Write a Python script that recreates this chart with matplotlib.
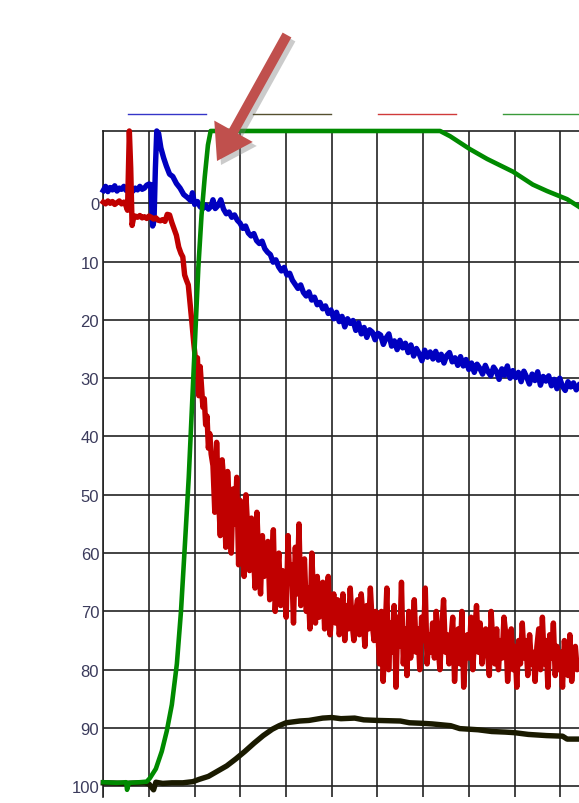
import numpy as np
import matplotlib
matplotlib.use("Agg")
import matplotlib.pyplot as plt
from matplotlib.lines import Line2D
from matplotlib.patches import FancyArrow
from matplotlib.transforms import IdentityTransform

plt.rcParams['font.family'] = ['Liberation Sans', 'DejaVu Sans']

# x is in grid units (one vertical gridline per unit), y is inverted 0..100
y_ticks = [0, 10, 20, 30, 40, 50, 60, 70, 80, 90, 100]

# blue
blue_start = [-2.2, -2.9, -2.0, -2.7, -2.3, -3.0, -2.1, -2.6, -2.4, -2.9, -2.2,
              -2.5, -2.8, -2.1, -2.6, -2.3, -2.9, -2.4, -2.6, -3.1, -3.3]
blue_mid_t = [1.04, 1.08, 1.11, 1.14, 1.17, 1.21, 1.26, 1.32, 1.38, 1.45, 1.52, 1.60,
              1.68, 1.76, 1.84, 1.92, 1.95, 2.00, 2.06, 2.12, 2.18, 2.24, 2.30, 2.36, 2.40]
blue_mid = [-3.2, 3.9, 3.0, -6.0, -12.4, -12.0, -9.5, -7.8, -6.4, -5.0, -4.6, -3.4,
            -2.6, -1.5, -1.0, -0.4, -1.8, 0.2, -0.3, 0.6, 0.9, 0.3, 1.0, 0.5, -0.6]
blue_tail = [0.9, 0.4, -0.6, 1.0, 1.8, 1.5, 2.4, 2.0, 2.9, 3.4,
             4.3, 3.9, 5.1, 5.6, 5.2, 6.4, 6.9, 6.5, 7.8, 8.4,
             8.8, 10.1, 9.7, 10.9, 11.6, 11.0, 12.3, 12.0, 13.2, 13.9,
             14.6, 14.0, 15.3, 15.9, 15.2, 16.6, 16.1, 17.4, 17.0, 18.1,
             17.6, 18.9, 18.3, 19.8, 18.7, 20.3, 19.4, 21.2, 19.8, 20.6,
             20.1, 21.8, 20.5, 22.4, 21.3, 23.0, 21.7, 22.1, 23.4, 22.3,
             22.6, 24.2, 23.1, 22.4, 24.5, 23.6, 25.1, 23.5, 24.8, 24.0,
             25.6, 24.3, 26.2, 24.9, 25.8, 27.0, 25.2, 26.4, 25.5, 26.7,
             25.4, 26.9, 25.9, 27.4, 26.1, 25.6, 27.2, 26.5, 27.8, 26.3,
             27.9, 26.8, 28.5, 27.4, 29.0, 27.6, 28.3, 29.3, 27.8, 28.9,
             29.6, 28.1, 28.8, 30.2, 28.4, 29.5, 27.9, 30.0, 28.7, 29.9,
             29.0, 30.6, 28.8, 29.8, 31.0, 29.3, 30.4, 28.9, 31.2, 29.7,
             30.5, 29.6, 31.3, 30.2, 31.8, 30.0, 31.4, 32.1, 30.6, 31.5,
             30.8, 32.0, 31.2]

# red
red_start = [-0.2, 0.1, -0.4, 0.0, -0.3, 0.2, -0.1, -0.4, 0.1, -0.2]
red_spike_t = [0.49, 0.53, 0.57, 0.60, 0.63, 0.66, 0.70]
red_spike = [0.3, 1.2, -12.4, -6.0, 3.8, 2.6, 2.2]
red_flat = [2.4, 2.1, 2.5, 2.3, 2.6, 2.2, 2.4, 2.7, 2.5, 2.9, 3.0, 2.8, 3.1]
red_drop_t = [1.40, 1.45, 1.50, 1.55, 1.60, 1.65, 1.70, 1.74, 1.78, 1.82, 1.86, 1.90, 1.94,
              1.98, 2.02, 2.06, 2.09, 2.12, 2.15, 2.18, 2.21, 2.24, 2.27, 2.30, 2.33, 2.36]
red_drop = [1.9, 2.0, 3.3, 4.4, 5.5, 7.5, 8.6, 9.2, 12.3, 13.2, 14.0, 17.2, 20.5,
            24.0, 27.0, 26.5, 33.0, 28.0, 31.5, 35.0, 33.5, 38.0, 36.5, 42.0, 39.5, 43.0]
red_tail = [45, 53, 41, 50, 57, 44, 48, 59, 46, 52,
            60, 49, 55, 47, 62, 51, 58, 64, 50, 56,
            63, 54, 59, 66, 53, 61, 67, 57, 64, 60,
            58, 68, 62, 56, 70, 64, 60, 69, 63, 66,
            71, 57, 65, 62, 72, 59, 67, 55, 69, 64,
            61, 70, 66, 73, 60, 68, 72, 64, 71, 67,
            65, 73, 69, 64, 74, 70, 67, 72, 68, 74,
            71, 67, 75, 69, 73, 66, 72, 75, 70, 68,
            74, 67, 71, 76, 69, 73, 66, 72, 75, 70,
            73, 79, 70, 82, 74, 66, 80, 72, 77, 69,
            83, 71, 76, 65, 79, 73, 81, 70, 78, 74,
            68, 77, 73, 80, 71, 75, 66, 79, 74, 77,
            72, 78, 70, 76, 80, 73, 68, 77, 74, 79,
            75, 71, 82, 76, 73, 79, 70, 83, 77, 74,
            78, 71, 80, 74, 69, 77, 72, 79, 75, 73,
            77, 81, 70, 76, 79, 73, 80, 75, 78, 71,
            74, 82, 77, 73, 80, 76, 83, 75, 79, 72,
            78, 75, 81, 74, 79, 77, 82, 76, 73, 80,
            71, 79, 75, 83, 74, 78, 72, 81, 76, 80,
            77, 83, 75, 79, 81, 74, 82, 78, 76, 80,
            79]

# green
green_t = [0, 0.3, 0.5, 0.52, 0.56, 0.8, 0.95, 1.02, 1.15, 1.28, 1.39, 1.50, 1.61, 1.70,
           1.79, 1.87, 1.94, 2.01, 2.08, 2.15, 2.22, 2.29, 2.35, 7.37, 7.59, 8.02, 8.40,
           8.97, 9.40, 9.71, 10.15, 10.41]
green_y = [99.3, 99.4, 99.3, 100.6, 99.4, 99.3, 99.2, 98.6, 97.0, 94.0, 90.5, 86.0, 79.0, 70.0,
           58.0, 47.0, 35.0, 23.0, 11.0, 2.0, -4.5, -10.0, -12.4, -12.4, -11.5, -9.3, -7.6,
           -5.4, -3.2, -2.1, -0.7, 0.6]

# black
black_t = [0, 0.5, 0.9, 1.0, 1.1, 1.15, 1.3, 1.5, 1.74, 1.96, 2.1, 2.3, 2.5, 2.7, 2.9, 3.1,
           3.3, 3.5, 3.7, 3.85, 4.0, 4.3, 4.5, 4.8, 5.0, 5.2, 5.5, 5.7, 6.0, 6.5, 6.7, 7.0,
           7.2, 7.6, 7.8, 8.2, 8.5, 8.8, 9.0, 9.3, 9.7, 10.05, 10.15, 10.41]
black_y = [99.4, 99.5, 99.4, 99.6, 100.6, 99.3, 99.5, 99.4, 99.4, 99.2, 98.8, 98.3, 97.4,
           96.5, 95.3, 94.0, 92.6, 91.3, 90.2, 89.6, 89.1, 88.8, 88.7, 88.3, 88.2, 88.4,
           88.3, 88.6, 88.7, 88.8, 89.1, 89.2, 89.3, 89.6, 90.1, 90.3, 90.6, 90.7, 90.8,
           91.1, 91.3, 91.4, 91.9, 91.9]

key_colors = ['#3535c8', '#55502f', '#d03a3a', '#3a9a3a']

blue_t = np.concatenate([np.linspace(0, 1.0, len(blue_start)), blue_mid_t,
                         np.linspace(2.45, 10.41, len(blue_tail))])
blue_y = np.concatenate([blue_start, blue_mid, blue_tail])
red_t = np.concatenate([np.linspace(0, 0.45, len(red_start)), red_spike_t,
                        np.linspace(0.75, 1.35, len(red_flat)), red_drop_t,
                        np.linspace(2.40, 10.41, len(red_tail))])
red_y = np.concatenate([red_start, red_spike, red_flat, red_drop, red_tail])

fig = plt.figure(figsize=(5.79, 8.04), dpi=100)
ax = fig.add_axes([0.1784, 0.0077, 0.8216, 0.8285])

lw = 3.9
ax.plot(black_t, black_y, color='#1a1a00', lw=lw, clip_on=False, zorder=3)
ax.plot(blue_t, blue_y, color='#0000c0', lw=lw, clip_on=False, zorder=4)
ax.plot(red_t, red_y, color='#c00000', lw=lw, clip_on=False, zorder=5)
ax.plot(green_t, green_y, color='#008a00', lw=3.3, clip_on=False, zorder=6)

ax.set_xlim(0, 10.41)
ax.set_ylim(101.8, -12.45)
ax.set_xticks(np.arange(0, 11, 1))
ax.set_yticks(y_ticks)
ax.tick_params(axis='x', length=0, labelbottom=False)
ax.tick_params(axis='y', length=0, pad=3, labelsize=12, labelcolor='#3b3b5c')
ax.grid(True, color='#222222', lw=1.2)
ax.set_axisbelow(True)
for s in ['right', 'bottom']:
    ax.spines[s].set_visible(False)
for s in ['left', 'top']:
    ax.spines[s].set_color('#222222')
    ax.spines[s].set_linewidth(1.2)

# legend keys without text
for i, c in enumerate(key_colors):
    x0 = (128 + 125 * i) / 579
    fig.add_artist(Line2D([x0, x0 + 78 / 579], [689 / 804, 689 / 804],
                          color=c, lw=1.0, transform=fig.transFigure))

# arrow pointing at the green curve (pixel coords)
tail = (287, 768)
d = (-70, -126)
shadow = FancyArrow(tail[0] + 4, tail[1] - 4, d[0], d[1], width=10, head_width=44,
                    head_length=34, length_includes_head=True, color='#7f7f7f',
                    alpha=0.4, lw=0, transform=IdentityTransform())
arrow = FancyArrow(tail[0], tail[1], d[0], d[1], width=10, head_width=44,
                   head_length=34, length_includes_head=True, color='#c0504d',
                   lw=0, transform=IdentityTransform())
fig.add_artist(shadow)
fig.add_artist(arrow)

fig.savefig('out.png', dpi=100)
